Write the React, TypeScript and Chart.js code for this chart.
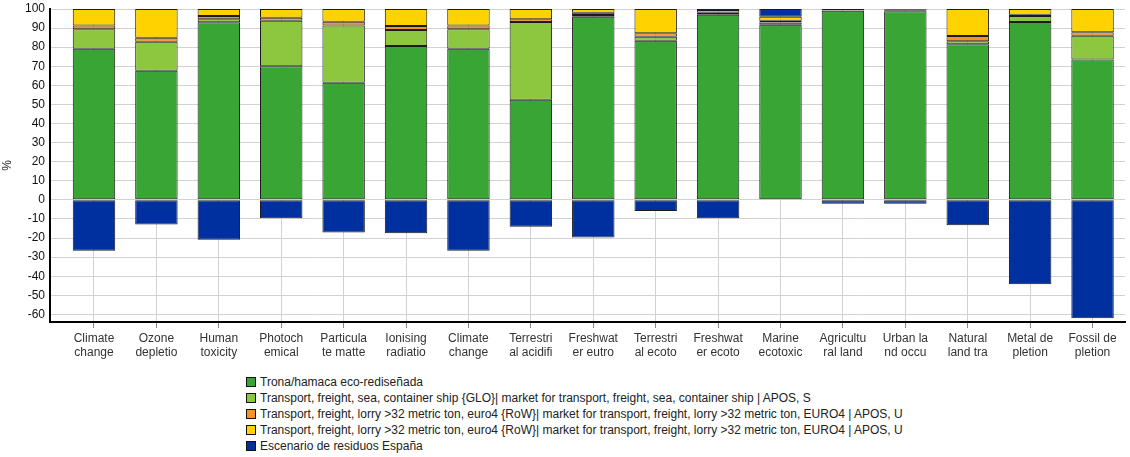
import React, { useEffect, useRef } from "react";
import { Chart, registerables } from "chart.js";

Chart.register(...registerables);

const categories: string[][] = [
  ["Climate", "change"],
  ["Ozone", "depletio"],
  ["Human", "toxicity"],
  ["Photoch", "emical"],
  ["Particula", "te matte"],
  ["Ionising", "radiatio"],
  ["Climate", "change"],
  ["Terrestri", "al acidifi"],
  ["Freshwat", "er eutro"],
  ["Terrestri", "al ecoto"],
  ["Freshwat", "er ecoto"],
  ["Marine", "ecotoxic"],
  ["Agricultu", "ral land"],
  ["Urban la", "nd occu"],
  ["Natural", "land tra"],
  ["Metal de", "pletion"],
  ["Fossil de", "pletion"],
];

const tronaValues = [79.2, 67.7, 93.0, 70.0, 61.4, 80.6, 79.2, 52.4, 96.0, 83.4, 97.0, 91.8, 99.1, 98.8, 81.5, 93.2, 73.5];
const seaShipValues = [10.2, 15.2, 1.6, 23.9, 30.0, 8.4, 10.2, 40.8, 0.8, 2.1, 1.0, 1.1, 0.2, 0.3, 1.6, 3.1, 12.5];
const lorryOrangeValues = [2.0, 2.1, 1.7, 1.5, 1.9, 2.1, 2.0, 1.4, 1.3, 1.8, 1.5, 1.0, 0.2, 0.5, 2.8, 0.7, 1.8];
const lorryYellowValues = [8.6, 15.0, 3.7, 4.6, 6.7, 8.9, 8.6, 5.4, 1.9, 12.7, 0.5, 2.1, 0.5, 0.4, 14.1, 3.0, 12.2];
const residuosValues = [-26.7, -12.9, -20.9, -9.6, -17.1, -17.5, -26.7, -14.1, -19.7, -5.9, -9.6, 4.0, -2.1, -2.1, -13.3, -44.2, -62.0];

const seriesNames = [
  "Trona/hamaca eco-rediseñada",
  "Transport, freight, sea, container ship {GLO}| market for transport, freight, sea, container ship | APOS, S",
  "Transport, freight, lorry >32 metric ton, euro4 {RoW}| market for transport, freight, lorry >32 metric ton, EURO4 | APOS, U",
  "Transport, freight, lorry >32 metric ton, euro4 {RoW}| market for transport, freight, lorry >32 metric ton, EURO4 | APOS, U",
  "Escenario de residuos España",
];
const seriesColors = ["#38a534", "#8dc63f", "#f7941d", "#ffd200", "#0030a0"];
const seriesValues = [tronaValues, seaShipValues, lorryOrangeValues, lorryYellowValues, residuosValues];

const yTicksMin = -64;
const yTicksMax = 100;

export default function App() {
  const canvasRef = useRef<HTMLCanvasElement | null>(null);

  useEffect(() => {
    if (!canvasRef.current) return;
    const datasets = seriesValues.map((vals, si) => ({
      label: seriesNames[si],
      data: vals.map((v, i) => ({ x: i, y: v })),
      backgroundColor: seriesColors[si],
      borderColor: "#1c1c1c",
      borderWidth: 1,
      borderSkipped: false as const,
      barPercentage: 0.68,
      categoryPercentage: 1,
    }));
    const chart = new Chart(canvasRef.current, {
      type: "bar",
      data: { datasets },
      options: {
        animation: false,
        responsive: false,
        layout: { padding: { top: 9, right: 5, left: 0, bottom: 0 } },
        plugins: { legend: { display: false }, tooltip: { enabled: false } },
        scales: {
          x: {
            type: "linear",
            stacked: true,
            offset: false,
            min: -0.705,
            max: 16.52,
            afterFit: (s: any) => {
              s.height = 48;
              s.paddingLeft = 0;
              s.paddingRight = 0;
            },
            ticks: {
              stepSize: 1,
              includeBounds: false,
              autoSkip: false,
              maxRotation: 0,
              minRotation: 0,
              padding: 3,
              color: "#333",
              font: { family: "Liberation Sans, Arial, sans-serif", size: 12 },
              callback: (v: any) => {
                const n = Number(v);
                return Number.isInteger(n) && categories[n] ? categories[n] : "";
              },
            },
            grid: { color: "#d2d2d2", offset: false, tickLength: 6, tickColor: "#888" },
            border: { color: "#000", width: 2 },
          },
          y: {
            stacked: true,
            min: yTicksMin,
            max: yTicksMax,
            afterFit: (s: any) => {
              s.width = 50;
              s.paddingTop = 0;
              s.paddingBottom = 0;
            },
            ticks: {
              stepSize: 10,
              includeBounds: false,
              autoSkip: false,
              padding: 5,
              color: "#111",
              font: { family: "Liberation Sans, Arial, sans-serif", size: 12 },
              callback: (v: any) => (Number(v) % 10 === 0 ? String(v) : ""),
            },
            grid: { color: "#d2d2d2", drawTicks: false },
            border: { color: "#000", width: 2 },
            title: {
              display: true,
              text: "%",
              color: "#222",
              padding: 0,
              font: { family: "Liberation Sans, Arial, sans-serif", size: 12 },
            },
          },
        },
      },
    });
    return () => chart.destroy();
  }, []);

  return (
    <div style={{ position: "absolute", left: 0, top: 0, width: 1130, height: 457, background: "#fff" }}>
      <canvas ref={canvasRef} width={1130} height={370} style={{ display: "block" }} />
      <div style={{ position: "absolute", left: 246, top: 374 }}>
        {seriesNames.map((name, i) => (
          <div
            key={i}
            style={{
              display: "flex",
              alignItems: "center",
              height: 16,
              fontFamily: "Liberation Sans, Arial, sans-serif",
              fontSize: 12,
              color: "#222",
              whiteSpace: "nowrap",
            }}
          >
            <span
              style={{
                display: "inline-block",
                width: 10,
                height: 10,
                boxSizing: "border-box",
                border: "1px solid #111",
                background: seriesColors[i],
                marginRight: 4,
              }}
            />
            <span>{name}</span>
          </div>
        ))}
      </div>
    </div>
  );
}
